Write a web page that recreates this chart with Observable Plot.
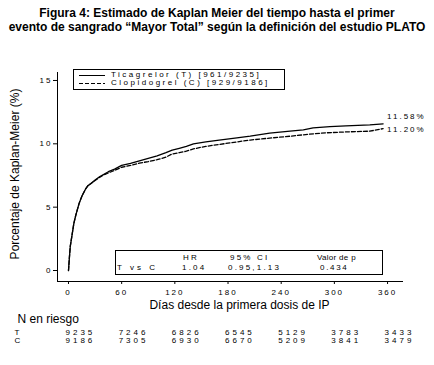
<!DOCTYPE html>
<html><head><meta charset="utf-8">
<script src="https://cdn.jsdelivr.net/npm/d3@7"></script>
<script src="https://cdn.jsdelivr.net/npm/@observablehq/plot@0.6"></script>
<style>
html,body{margin:0;padding:0;background:#fff;}
#wrap{position:relative;width:434px;height:365px;overflow:hidden;font-family:"Liberation Sans",Arial,sans-serif;color:#000;background:#fff;}
#title{position:absolute;left:0;top:0;width:434px;text-align:center;font-weight:bold;font-size:12px;line-height:13.5px;padding-top:7px;}
#chart{position:absolute;left:0;top:40px;}
.box{position:absolute;border:1px solid #000;box-sizing:border-box;}
.sm{position:absolute;font-size:8px;letter-spacing:2.2px;white-space:nowrap;line-height:8px;}
.solid{position:absolute;height:1px;background:#000;}
.dash{position:absolute;height:1px;background:repeating-linear-gradient(to right,#000 0 4px,transparent 4px 6px);}
g[aria-label="y-axis tick label"] text, g[aria-label="x-axis tick label"] text{letter-spacing:2px;}
</style></head>
<body><div id="wrap">
<div id="title">Figura 4: Estimado de Kaplan Meier del tiempo hasta el primer<br>evento de sangrado “Mayor Total” según la definición del estudio PLATO</div>
<div id="chart"></div>
<div class="box" style="left:73px;top:69px;width:212px;height:21px;"></div>
<div class="solid" style="left:79px;top:75px;width:26px;"></div>
<div class="dash" style="left:79px;top:83px;width:26px;"></div>
<div class="sm" id="leg0" style="left:111px;top:71px;letter-spacing:2.5px;"></div>
<div class="sm" id="leg1" style="left:111px;top:79px;letter-spacing:2.5px;"></div>
<div class="box" style="left:115px;top:250px;width:268px;height:25px;"></div>
<div class="sm" id="h0" style="left:183px;top:254px;"></div>
<div class="sm" id="h1" style="left:230px;top:254px;"></div>
<div class="sm" id="h2" style="left:317px;top:254px;letter-spacing:0.3px;"></div>
<div class="sm" id="r0" style="left:117px;top:264px;letter-spacing:3px;"></div>
<div class="sm" id="r1" style="left:182px;top:264px;"></div>
<div class="sm" id="r2" style="left:228px;top:264px;"></div>
<div class="sm" id="r3" style="left:320px;top:264px;letter-spacing:1.7px;"></div>
</div>
<script>
// Data
const tDays = [0,1,2,4,6,8,10,12,15,19,22,25,30,35,40,45,52,60,70,80,90,100,110,117,125,133,141,155,170,190,205,227,250,265,276,295,313,340,355];
const tPct  = [0,1.0,1.9,2.8,3.7,4.3,4.8,5.3,5.85,6.4,6.7,6.85,7.15,7.4,7.6,7.8,8.0,8.3,8.45,8.65,8.85,9.05,9.3,9.5,9.65,9.8,10.0,10.15,10.3,10.47,10.6,10.84,11.0,11.1,11.26,11.35,11.42,11.5,11.58];
const cDays = [0,1,2,4,6,8,10,12,15,19,22,25,30,35,40,45,52,60,70,80,90,100,110,117,125,133,141,155,170,190,205,227,250,270,291,310,340,355];
const cPct  = [0,1.0,1.9,2.8,3.7,4.3,4.8,5.3,5.85,6.4,6.7,6.85,7.1,7.35,7.55,7.7,7.9,8.15,8.3,8.47,8.6,8.75,8.95,9.2,9.3,9.42,9.6,9.8,9.95,10.15,10.3,10.45,10.6,10.75,10.87,10.93,11.0,11.2];
const seriesNames = ["Ticagrelor (T) [961/9235]", "Clopidogrel (C) [929/9186]"];
const endLabels = ["11.58%", "11.20%"];
const xTicks = [0,60,120,180,240,300,360];
const yTicks = [0,5,10,15];
const riskGroups = ["T","C"];
const riskT = [9235,7246,6826,6545,5129,3783,3433];
const riskC = [9186,7305,6930,6670,5209,3841,3479];
const hrHeaders = ["HR","95% CI","Valor de p"];
const hrRow = ["T vs C","1.04","0.95,1.13","0.434"];
const yLabel = "Porcentaje de Kaplan-Meier (%)";
const xLabel = "Días desde la primera dosis de IP";
const riskTitle = "N en riesgo";

const tData = tDays.map((d,i)=>({day:d,pct:tPct[i]}));
const cData = cDays.map((d,i)=>({day:d,pct:cPct[i]}));
const xDomain = [-12.4, 378];
const yDomain = [-0.868, 15.63];
const font = '"Liberation Sans", Arial, sans-serif';

const chart = Plot.plot({
  width: 434, height: 325,
  marginLeft: 57, marginRight: 31, marginTop: 32, marginBottom: 84,
  x: {domain: xDomain},
  y: {domain: yDomain},
  style: {fontFamily: font, fontSize: "8px", background: "white", color: "black", overflow: "visible"},
  marks: [
    Plot.ruleX([xDomain[0]], {stroke: "black", strokeWidth: 1}),
    Plot.ruleY([yDomain[0]], {stroke: "black", strokeWidth: 1}),
    Plot.axisY({ticks: yTicks, tickSize: 4, tickPadding: 1, label: null, tickFormat: d => String(d), fontSize: 8}),
    Plot.axisX({ticks: xTicks, tickSize: 3, tickPadding: 5, label: null, tickFormat: d => String(d), fontSize: 8}),
    Plot.line(tData, {x: "day", y: "pct", stroke: "black", strokeWidth: 1.3}),
    Plot.line(cData, {x: "day", y: "pct", stroke: "black", strokeWidth: 1.3, strokeDasharray: "4,2"}),
    Plot.text([{day: tDays[tDays.length-1], pct: tPct[tPct.length-1], label: endLabels[0]}], {x: "day", y: "pct", text: "label", textAnchor: "start", dx: 4, dy: -7, fontSize: 8}),
    Plot.text([{day: cDays[cDays.length-1], pct: cPct[cPct.length-1], label: endLabels[1]}], {x: "day", y: "pct", text: "label", textAnchor: "start", dx: 4, dy: 1, fontSize: 8}),
    Plot.text([yLabel], {text: d => d, frameAnchor: "left", textAnchor: "middle", rotate: -90, dx: -42, dy: -3, fontSize: 12}),
    Plot.text([xLabel], {text: d => d, frameAnchor: "bottom", dx: 9, dy: 27, fontSize: 12}),
    Plot.text([riskTitle], {text: d => d, frameAnchor: "bottom-left", textAnchor: "start", dx: -40, dy: 41, fontSize: 12}),
    Plot.text([riskGroups[0]], {text: d => d, frameAnchor: "bottom-left", textAnchor: "start", dx: -43, dy: 53, fontSize: 8}),
    Plot.text([riskGroups[1]], {text: d => d, frameAnchor: "bottom-left", textAnchor: "start", dx: -43, dy: 61.3, fontSize: 8}),
    Plot.text(riskT, {x: (d,i) => xTicks[i], text: d => String(d), frameAnchor: "bottom", textAnchor: "start", dx: -3, dy: 53, fontSize: 8}),
    Plot.text(riskC, {x: (d,i) => xTicks[i], text: d => String(d), frameAnchor: "bottom", textAnchor: "start", dx: -3, dy: 61.3, fontSize: 8})
  ]
});
// letter-spacing for the small spaced numerals (not supported as a Plot option)
d3.select(chart).selectAll("text").each(function() {
  const s = this.textContent;
  if (/^\d{4}$/.test(s)) this.style.letterSpacing = "3px";
  else if (/%$/.test(s) && s.length < 8) this.style.letterSpacing = "2px";
});
document.getElementById("chart").appendChild(chart);
document.getElementById("leg0").textContent = seriesNames[0];
document.getElementById("leg1").textContent = seriesNames[1];
hrHeaders.forEach((t,i) => document.getElementById("h"+i).textContent = t);
hrRow.forEach((t,i) => document.getElementById("r"+i).textContent = t);
</script>
</body></html>
